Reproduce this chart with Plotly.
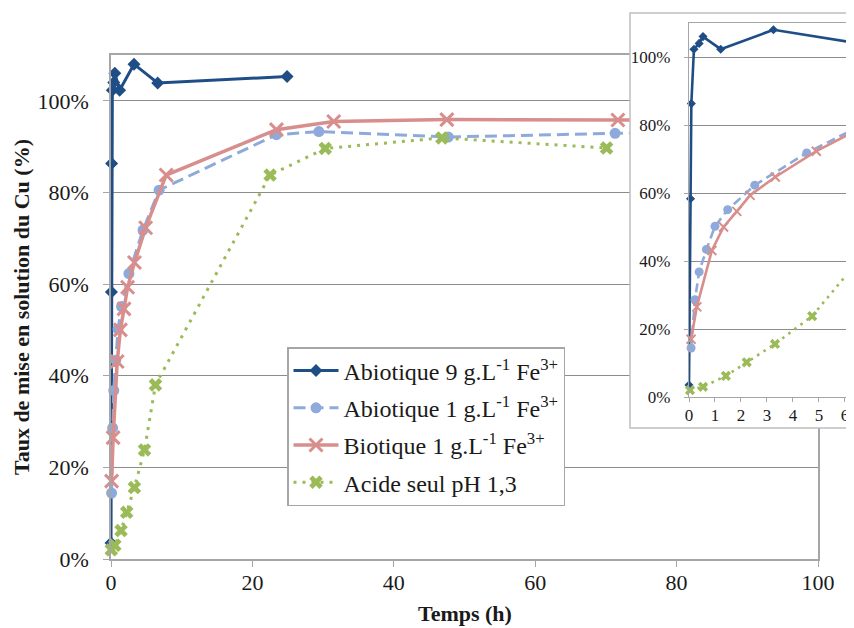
import plotly.graph_objects as go

# ---------------- data ----------------
t_abio9 = [0.0, 0.06, 0.09, 0.19, 0.39, 0.54, 1.22, 3.25, 6.6, 24.9]
v_abio9 = [0.035, 0.583, 0.863, 1.023, 1.040, 1.060, 1.023, 1.080, 1.039, 1.053]

t_abio1 = [0.08, 0.23, 0.39, 0.67, 1.0, 1.49, 2.53, 4.53, 6.8, 23.4, 29.4, 47.7, 71.3, 95.0]
v_abio1 = [0.144, 0.286, 0.368, 0.434, 0.502, 0.551, 0.623, 0.718, 0.805, 0.926, 0.933, 0.921, 0.929, 0.930]

t_bio1 = [0.08, 0.3, 0.88, 1.33, 1.84, 2.35, 3.32, 4.9, 7.8, 23.4, 31.5, 47.5, 71.7, 95.0]
v_bio1 = [0.170, 0.265, 0.431, 0.500, 0.546, 0.593, 0.647, 0.723, 0.838, 0.937, 0.955, 0.959, 0.958, 0.958]

t_acid = [0.04, 0.54, 1.42, 2.22, 3.31, 4.74, 6.29, 22.5, 30.3, 46.8, 70.1]
v_acid = [0.020, 0.030, 0.062, 0.102, 0.156, 0.238, 0.380, 0.838, 0.896, 0.919, 0.897]

names = ["Abiotique 9 g.L<sup>-1</sup> Fe<sup>3+</sup>",
         "Abiotique 1 g.L<sup>-1</sup> Fe<sup>3+</sup>",
         "Biotique 1 g.L<sup>-1</sup> Fe<sup>3+</sup>",
         "Acide seul pH 1,3"]

x_title = "Temps (h)"
y_title = "Taux de mise en solution du Cu (%)"

# ---------------- styling ----------------
OFF = 8                      # page body margin
W, H = 854 - OFF, 628 - OFF  # figure size
FONT = "Liberation Serif, Times New Roman, serif"
C_DARK = "#1F4E87"
C_LBLUE = "#8EAADB"
C_PINK = "#D88E8C"
C_GREEN = "#9BBB59"
GRID = "#8C8C8C"
AXL = "#A6A6A6"
TXT = "#1a1a1a"

def px_x(p):
    return (p - OFF) / W

def px_y(p):
    return 1 - (p - OFF) / H

series = [
    (t_abio9, v_abio9, C_DARK, dict(width=3), "diamond", 10, 7, None),
    (t_abio1, v_abio1, C_LBLUE, dict(width=3, dash="12px,6px"), "circle", 11, 9, None),
    (t_bio1, v_bio1, C_PINK, dict(width=3.5), "x-thin", 13, 9, 3),
    (t_acid, v_acid, C_GREEN, dict(width=3, dash="3px,6px"), "x", 12, 9, None),
]

fig = go.Figure()

# main chart traces
for i, ((t, v, c, ln, sym, ms, ms_in, mlw), nm) in enumerate(zip(series, names)):
    mk = dict(symbol=sym, size=ms, color=c)
    if mlw:
        mk["line"] = dict(width=mlw, color=c)
    fig.add_trace(go.Scatter(x=t, y=v, name=nm, mode="lines+markers",
                             line=dict(color=c, **ln), marker=mk,
                             legendgroup="g%d" % i,
                             cliponaxis=False, xaxis="x", yaxis="y"))

# cover subplot (white box behind inset)
fig.add_trace(go.Scatter(x=[None], y=[None], showlegend=False, hoverinfo="skip",
                         xaxis="x2", yaxis="y2"))

# inset traces
for i, ((t, v, c, ln, sym, ms, ms_in, mlw), nm) in enumerate(zip(series, names)):
    ln2 = dict(ln)
    ln2["width"] = 2.6
    if "dash" in ln2:
        ln2["dash"] = "9px,5px" if ln2["dash"].startswith("12") else "2.6px,5px"
    mk = dict(symbol=sym, size=ms_in, color=c)
    if mlw:
        mk["line"] = dict(width=2, color=c)
    fig.add_trace(go.Scatter(x=t, y=v, name=nm, mode="lines+markers",
                             line=dict(color=c, **ln2), marker=mk, showlegend=False,
                             legendgroup="g%d" % i,
                             cliponaxis=False, xaxis="x3", yaxis="y3"))

tickfont_main = dict(family=FONT, size=22, color=TXT)
tickfont_in = dict(family=FONT, size=17, color=TXT)

fig.update_layout(
    width=W, height=H,
    margin=dict(l=0, r=0, t=0, b=0),
    paper_bgcolor="white", plot_bgcolor="white",
    font=dict(family=FONT, color=TXT),
    xaxis=dict(domain=[px_x(111), px_x(818)], range=[0, 100], dtick=20, tick0=0,
               showgrid=False, zeroline=False, showline=True, mirror=True,
               linecolor=AXL, linewidth=1.5, ticks="outside", ticklen=6,
               tickcolor=AXL, tickfont=tickfont_main, anchor="y",
               automargin=False, ticklabelstandoff=-3),
    yaxis=dict(domain=[px_y(559), px_y(55)], range=[0, 1.1], dtick=0.2, tick0=0,
               tickformat=".0%", showgrid=True, gridcolor=GRID, gridwidth=1.3,
               zeroline=False, showline=True, mirror=True, linecolor=AXL,
               linewidth=1.5, ticks="outside", ticklen=6, tickcolor=AXL,
               tickfont=tickfont_main, anchor="x", automargin=False,
               ticklabelstandoff=10),
    xaxis2=dict(domain=[px_x(630), 1], range=[0, 1], visible=False, anchor="y2",
                fixedrange=True),
    yaxis2=dict(domain=[px_y(428), px_y(13)], range=[0, 1], visible=False,
                anchor="x2", fixedrange=True),
    xaxis3=dict(domain=[px_x(689), 1], range=[0, 6.35], dtick=1, tick0=0,
                showgrid=False, zeroline=False, showline=True, mirror=True,
                linecolor=AXL, linewidth=1.3, ticks="outside", ticklen=4,
                tickcolor=AXL, tickfont=tickfont_in, anchor="y3",
                automargin=False, ticklabelstandoff=-2),
    yaxis3=dict(domain=[px_y(397), px_y(23)], range=[0, 1.1], dtick=0.2, tick0=0,
                tickformat=".0%", showgrid=True, gridcolor=GRID, gridwidth=1.2,
                zeroline=False, showline=True, mirror=True, linecolor=AXL,
                linewidth=1.3, ticks="outside", ticklen=4, tickcolor=AXL,
                tickfont=tickfont_in, anchor="x3", automargin=False,
                ticklabelstandoff=10),
    legend=dict(x=px_x(287), y=px_y(347), xanchor="left", yanchor="top",
                bgcolor="white", bordercolor=AXL, borderwidth=1.5,
                font=dict(family=FONT, size=24, color=TXT),
                tracegroupgap=3, traceorder="grouped", itemwidth=45),
    shapes=[dict(type="rect", xref="paper", yref="paper",
                 x0=px_x(630), x1=1.05, y0=px_y(428), y1=px_y(13),
                 line=dict(color="#BFBFBF", width=1.5), fillcolor="rgba(0,0,0,0)",
                 layer="above")],
    annotations=[
        dict(text="<b>" + y_title + "</b>", xref="paper", yref="paper",
             x=px_x(22), y=px_y(307), textangle=-90, showarrow=False,
             font=dict(family=FONT, size=22, color=TXT),
             xanchor="center", yanchor="middle"),
        dict(text="<b>" + x_title + "</b>", xref="paper", yref="paper",
             x=px_x(465), y=px_y(613), showarrow=False,
             font=dict(family=FONT, size=22, color=TXT),
             xanchor="center", yanchor="middle"),
    ],
)

fig.write_html("out.html")
